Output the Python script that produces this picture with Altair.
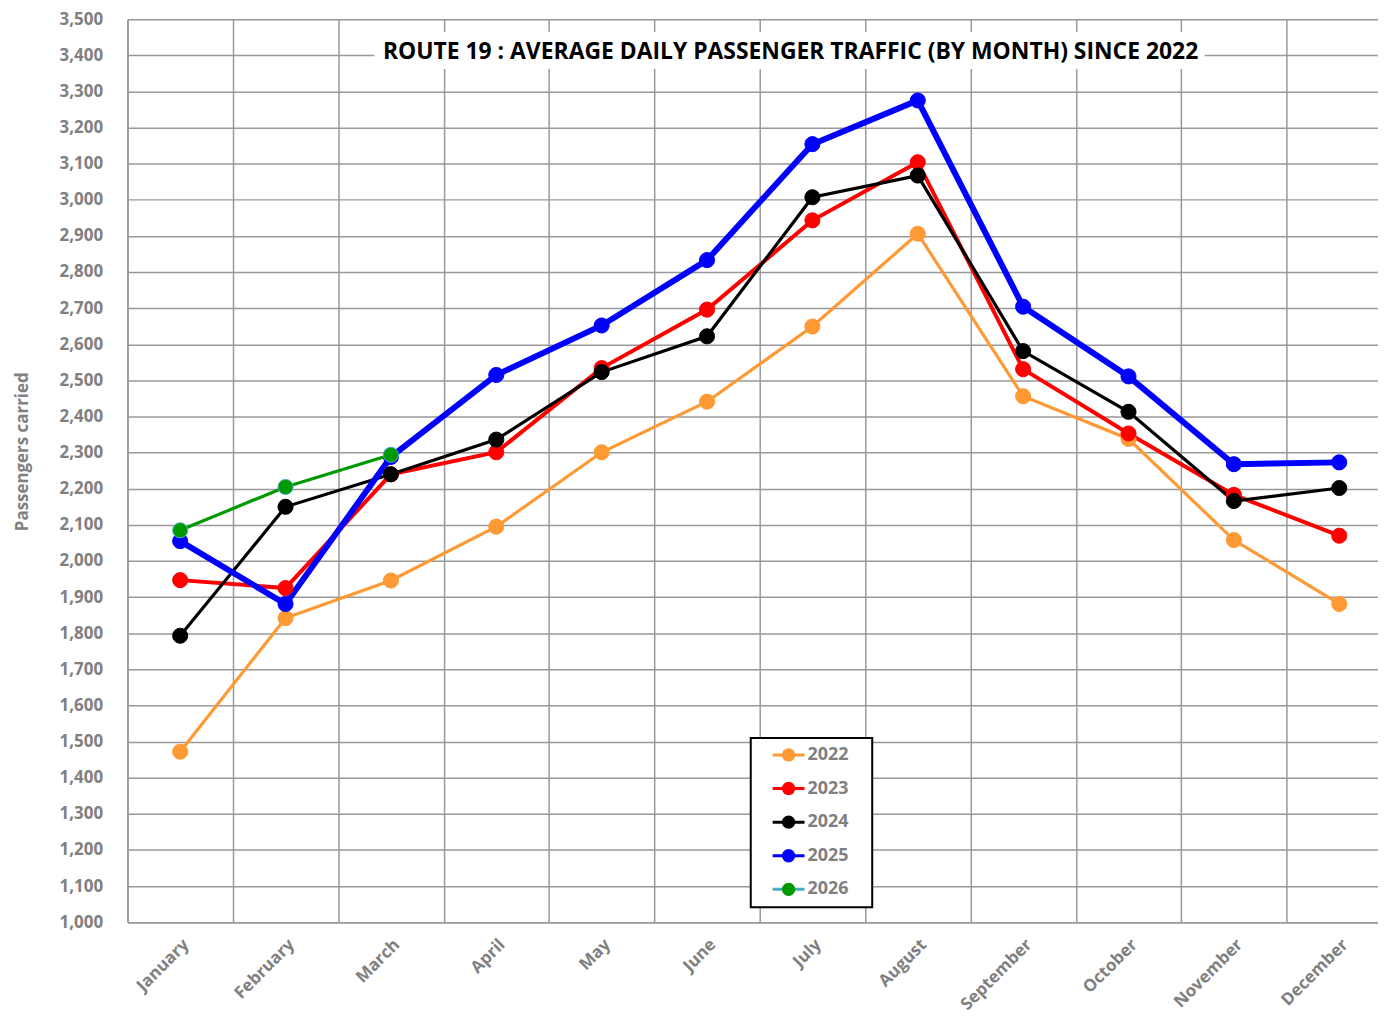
import altair as alt
import pandas as pd

months = ["January", "February", "March", "April", "May", "June", "July",
          "August", "September", "October", "November", "December"]
years = ["2022", "2023", "2024", "2025", "2026"]

v2022 = [1472, 1842, 1946, 2095, 2301, 2441, 2649, 2906, 2456, 2338, 2058, 1881]
v2023 = [1947, 1925, 2240, 2301, 2534, 2696, 2943, 3104, 2531, 2353, 2183, 2070]
v2024 = [1793, 2150, 2240, 2336, 2523, 2622, 3007, 3067, 2581, 2413, 2166, 2202]
v2025 = [2055, 1881, 2288, 2515, 2652, 2833, 3154, 3275, 2704, 2511, 2268, 2273]
v2026 = [2085, 2205, 2294]

series = [v2022, v2023, v2024, v2025, v2026]
line_colors = ["#FF9933", "#FF0000", "#000000", "#0000FF", "#009900"]
legend_strokes = ["#FF9933", "#FF0000", "#000000", "#0000FF", "#4BACC6"]
line_widths = [3.2, 4, 3.2, 6, 3.2]
y_ticks = list(range(1000, 3600, 100))
TITLE = "ROUTE 19 : AVERAGE DAILY PASSENGER TRAFFIC (BY MONTH) SINCE 2022"

rows = []
for yr, vals in zip(years, series):
    for m, v in zip(months, vals):
        rows.append({"month": m, "year": yr, "value": v})
df = pd.DataFrame(rows)
ldf = pd.DataFrame({"year": years})

GRID = "#999999"
LBL = "#808080"
FONT = "Open Sans"

color_scale = alt.Scale(domain=years, range=line_colors)
stroke_scale = alt.Scale(domain=years, range=legend_strokes)

x_enc = alt.X(
    "month:N", sort=months, title=None,
    scale=alt.Scale(type="band", domain=months, range=[0, 1270],
                    paddingInner=0, paddingOuter=0),
    axis=alt.Axis(tickBand="extent", grid=True, gridColor=GRID, gridWidth=1.5,
                  ticks=False, domainColor=GRID, domainWidth=1.5,
                  labelAngle=-45, labelAlign="right", labelBaseline="top",
                  labelPadding=14, labelFont=FONT, labelFontSize=17,
                  labelFontWeight="bold", labelColor=LBL),
)
y_enc = alt.Y(
    "value:Q", title="Passengers carried",
    scale=alt.Scale(domain=[1000, 3500], nice=False, zero=False),
    axis=alt.Axis(values=y_ticks, format=",d", grid=True, gridColor=GRID,
                  gridWidth=1.5, ticks=False, domainColor=GRID, domainWidth=1.5,
                  labelPadding=25, labelFont=FONT, labelFontSize=17,
                  labelFontWeight="bold", labelColor=LBL,
                  titleFont=FONT, titleFontSize=17, titleFontWeight="bold",
                  titleColor=LBL, titlePadding=28, titleY=434),
)

base = alt.Chart(df)
lines = base.mark_line().encode(
    x=x_enc, y=y_enc,
    color=alt.Color("year:N", scale=color_scale, legend=None),
    strokeWidth=alt.StrokeWidth("year:N", scale=alt.Scale(type="ordinal", domain=years, range=line_widths), legend=None),
)
points = base.mark_point(filled=True, size=230, strokeWidth=1, opacity=1).encode(
    x=x_enc, y=y_enc,
    color=alt.Color("year:N", scale=color_scale, legend=None),
    stroke=alt.Stroke("year:N", scale=stroke_scale, legend=None),
)

tdf = pd.DataFrame({"t": [TITLE]})
title_bg = alt.Chart(tdf).mark_rect(color="white").encode(
    x=alt.value(248), x2=alt.value(1082), y=alt.value(13), y2=alt.value(50))
title_txt = alt.Chart(tdf).mark_text(
    font=FONT, fontSize=23, fontWeight="bold", color="black",
    align="center", baseline="middle").encode(
    text="t:N", x=alt.value(666), y=alt.value(33))

main = alt.layer(lines, points, title_bg, title_txt)

# legend drawn as its own layer
ly = alt.Y("year:N", sort=years, axis=None,
           scale=alt.Scale(type="point", domain=years, range=[739, 874], padding=0))
leg_box = alt.Chart(tdf).mark_rect(fill="white", stroke="black", strokeWidth=2).encode(
    x=alt.value(626), x2=alt.value(748), y=alt.value(722), y2=alt.value(892))
leg_line = alt.Chart(ldf).mark_rule(strokeWidth=3).encode(
    x=alt.value(648), x2=alt.value(680), y=ly,
    stroke=alt.Stroke("year:N", scale=stroke_scale, legend=None))
leg_pt = alt.Chart(ldf).mark_point(filled=True, size=180, opacity=1).encode(
    x=alt.value(664), y=ly,
    color=alt.Color("year:N", scale=color_scale, legend=None))
leg_txt = alt.Chart(ldf).mark_text(
    font=FONT, fontSize=18, fontWeight="bold", color=LBL,
    align="left", baseline="middle").encode(
    x=alt.value(683), y=ly, text="year:N")
legend = alt.layer(leg_box, leg_line, leg_pt, leg_txt)

chart = alt.layer(main, legend).resolve_scale(y="independent").properties(
    width=1256, height=907,
    autosize=alt.AutoSizeParams(type="none"),
    padding={"left": 120, "top": 9, "right": 0, "bottom": 95},
).configure_view(stroke=None).configure(background="white")

chart.save("out.html", embed_options={"renderer": "svg", "actions": False})
